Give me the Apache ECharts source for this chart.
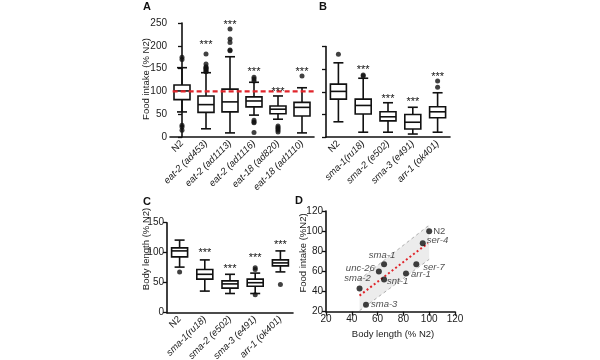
<!DOCTYPE html>
<html><head><meta charset="utf-8">
<script src="https://cdn.jsdelivr.net/npm/echarts@6/dist/echarts.min.js"></script>
<style>html,body{margin:0;padding:0;background:#fff}#c{width:600px;height:360px}</style>
</head><body><div id="c"></div>
<script>
const FONT = '"Liberation Sans", Arial, Helvetica, sans-serif';

// ---- Panel A: food intake, eat mutants ----
const aCategories = ['N2', 'eat-2 (ad453)', 'eat-2 (ad1113)', 'eat-2 (ad1116)', 'eat-18 (ad820)', 'eat-18 (ad1110)'];
const aLow    = [55, 18, 9, 48, 39, 9];
const aQ1     = [82, 54, 55, 66, 51, 46];
const aMedian = [101, 71, 77, 79, 61, 65];
const aQ3     = [114, 90, 105, 88, 68, 76];
const aHigh   = [152, 141, 176, 120, 90, 108];
const aOutliers = [[0,175],[0,170],[0,26],[0,22],[0,15],
  [1,182],[1,160],[1,154],[1,152],[1,150],[1,148],[1,145],[1,143],
  [2,237],[2,215],[2,207],[2,191],[2,189],
  [3,131],[3,127],[3,123],[3,37],[3,33],[3,31],[3,10],
  [4,24],[4,21],[4,18],[4,15],[4,11],
  [5,134]];
const aStars = [null, 206, 249, 147, 104, 147];
const aReference = 100;
const aReferenceSpan = [-0.39, 5.75];

// ---- Panel B: food intake, TGF-beta mutants ----
const bCategories = ['N2', 'sma-1(ru18)', 'sma-2 (e502)', 'sma-3 (e491)', 'arr-1 (ok401)'];
const bLow    = [34, 11, 11, 7, 11];
const bQ1     = [84, 51, 36, 18, 43];
const bMedian = [101, 70, 45, 33, 56];
const bQ3     = [117, 84, 56, 50, 67];
const bHigh   = [164, 130, 76, 66, 98];
const bOutliers = [[0,183],[1,137],[1,135],[4,124],[4,110]];
const bStars = [null, 153, 89, 82, 137];

// ---- Panel C: body length ----
const cCategories = ['N2', 'sma-1(ru18)', 'sma-2 (e502)', 'sma-3 (e491)', 'arr-1 (ok401)'];
const cLow    = [76, 36, 32, 32, 68];
const cQ1     = [93, 56, 41, 44, 78];
const cMedian = [103, 64, 48, 50, 83];
const cQ3     = [108, 72, 53, 56, 88];
const cHigh   = [121, 88, 64, 66, 103];
const cOutliers = [[0,68],[3,75],[3,72],[3,30],[4,47]];
const cStars = [null, 103, 76, 94, 117];

// ---- Panel D: correlation ----
const dGenes      = ['N2', 'ser-4', 'sma-1', 'unc-26', 'ser-7', 'arr-1', 'snt-1', 'sma-2', 'sma-3'];
const dBodyLength = [100, 95, 65, 61, 90, 82, 65, 46, 51];
const dFoodIntake = [100, 88, 67, 60, 67, 58, 52, 43, 27];
const dFitLine    = [[46, 36], [99, 88]];
const dBandUpper  = [[46, 52], [100, 106]];
const dBandLower  = [[46, 21], [100, 72]];
const dTicks = [20, 120, 20];

// ---- styles (not data) ----
const labelPlacement = {
  'N2': {position: 'right', offset: [-1, 0]},
  'ser-4': {position: 'right', offset: [-1, -3]},
  'sma-1': {position: 'top', offset: [-2, 1]},
  'unc-26': {position: 'left', offset: [1, -3]},
  'ser-7': {position: 'right', offset: [2, 3]},
  'arr-1': {position: 'right', offset: [0, 1]},
  'snt-1': {position: 'right', offset: [-2, 2]},
  'sma-2': {position: 'top', offset: [-2, 0]},
  'sma-3': {position: 'right', offset: [0, 0]}
};

const INK = '#111';
function boxData(lo, q1, md, q3, hi) {
  return lo.map((v, i) => [i, lo[i], q1[i], md[i], q3[i], hi[i]]);
}
function starData(arr) {
  const out = [];
  arr.forEach((v, i) => { if (v !== null) out.push([i, v]); });
  return out;
}
function boxItem(params, api) {
  const i = api.value(0);
  const p = [1, 2, 3, 4, 5].map(k => api.coord([i, api.value(k)]));
  const cx = p[0][0];
  const bw = 16, cw = 10;
  const st = {stroke: INK, lineWidth: 1.6, fill: null};
  return {type: 'group', children: [
    {type: 'line', shape: {x1: cx, y1: p[4][1], x2: cx, y2: p[3][1]}, style: st},
    {type: 'line', shape: {x1: cx, y1: p[0][1], x2: cx, y2: p[1][1]}, style: st},
    {type: 'line', shape: {x1: cx - cw / 2, y1: p[4][1], x2: cx + cw / 2, y2: p[4][1]}, style: st},
    {type: 'line', shape: {x1: cx - cw / 2, y1: p[0][1], x2: cx + cw / 2, y2: p[0][1]}, style: st},
    {type: 'rect', shape: {x: cx - bw / 2, y: p[3][1], width: bw, height: p[1][1] - p[3][1]},
      style: {stroke: INK, lineWidth: 1.6, fill: '#fff'}},
    {type: 'line', shape: {x1: cx - bw / 2, y1: p[2][1], x2: cx + bw / 2, y2: p[2][1]}, style: st}
  ]};
}
function starItem(params, api) {
  const c = api.coord([api.value(0), api.value(1)]);
  return {type: 'text', x: c[0], y: c[1] + 2,
    style: {text: '***', font: '11px ' + FONT, fill: INK, align: 'center', verticalAlign: 'middle'}};
}
function catAxis(grid, cats) {
  return {
    type: 'category', gridIndex: grid, data: cats,
    axisLine: {lineStyle: {color: INK, width: 1.6}},
    axisTick: {alignWithLabel: true, length: 4, lineStyle: {color: INK, width: 1.3}},
    axisLabel: {rotate: 45, margin: 5, color: '#1a1a1a', fontSize: 9.5, fontFamily: FONT, interval: 0,
      formatter: v => v === 'N2' ? v : '{i|' + v + '}',
      rich: {i: {fontStyle: 'italic', fontSize: 9.5, fontFamily: FONT, color: '#1a1a1a'}}},
    splitLine: {show: false}
  };
}
function valAxis(grid, min, max, interval, showLabels) {
  return {
    type: 'value', gridIndex: grid, min: min, max: max, interval: interval,
    axisLine: {show: true, lineStyle: {color: INK, width: 1.6}},
    axisTick: {show: true, length: 4, lineStyle: {color: INK, width: 1.3}},
    axisLabel: {show: showLabels, color: '#1a1a1a', fontSize: 10, fontFamily: FONT, margin: 3},
    splitLine: {show: false}
  };
}

const dPoints = dGenes.map((g, i) => ({
  name: g, value: [dBodyLength[i], dFoodIntake[i]],
  label: Object.assign({show: true, formatter: g, fontStyle: g === 'N2' ? 'normal' : 'italic',
    fontSize: 9.5, fontFamily: FONT, color: '#1a1a1a', distance: 2}, labelPlacement[g])
}));

const chart = echarts.init(document.getElementById('c'), null, {renderer: 'canvas'});
const option = {
  animation: false,
  backgroundColor: '#fff',
  grid: [
    {left: 170, top: 23, width: 144, height: 114, outerBoundsMode: 'none'},
    {left: 326, top: 46.5, width: 124, height: 90.7, outerBoundsMode: 'none'},
    {left: 167, top: 222.7, width: 126, height: 90, outerBoundsMode: 'none'},
    {left: 326, top: 211, width: 129, height: 100.7, outerBoundsMode: 'none'}
  ],
  xAxis: [
    catAxis(0, aCategories),
    catAxis(1, bCategories),
    catAxis(2, cCategories),
    valAxis(3, dTicks[0], dTicks[1], dTicks[2], true),
    {type: 'value', gridIndex: 0, min: -0.5, max: aCategories.length - 0.5, show: false}
  ],
  yAxis: [
    valAxis(0, 0, 250, 50, true),
    valAxis(1, 0, 200, 50, false),
    valAxis(2, 0, 150, 50, true),
    valAxis(3, dTicks[0], dTicks[1], dTicks[2], true)
  ],
  graphic: [
    {type: 'text', x: 143, y: 1, style: {text: 'A', font: 'bold 11px ' + FONT, fill: INK}},
    {type: 'text', x: 319, y: 1, style: {text: 'B', font: 'bold 11px ' + FONT, fill: INK}},
    {type: 'text', x: 143, y: 196, style: {text: 'C', font: 'bold 11px ' + FONT, fill: INK}},
    {type: 'text', x: 295, y: 195, style: {text: 'D', font: 'bold 11px ' + FONT, fill: INK}},
    {type: 'text', x: 146, y: 79, rotation: Math.PI / 2,
      style: {text: 'Food intake (% N2)', font: '9.5px ' + FONT, fill: '#1a1a1a', align: 'center', verticalAlign: 'middle'}},
    {type: 'text', x: 146, y: 249, rotation: Math.PI / 2,
      style: {text: 'Body length (% N2)', font: '9.5px ' + FONT, fill: '#1a1a1a', align: 'center', verticalAlign: 'middle'}},
    {type: 'text', x: 303, y: 253, rotation: Math.PI / 2,
      style: {text: 'Food intake (%N2)', font: '9.5px ' + FONT, fill: '#1a1a1a', align: 'center', verticalAlign: 'middle'}},
    {type: 'text', x: 393, y: 334,
      style: {text: 'Body length (% N2)', font: '9.5px ' + FONT, fill: '#1a1a1a', align: 'center', verticalAlign: 'middle'}}
  ],
  series: [
    // A
    {type: 'line', xAxisIndex: 4, yAxisIndex: 0, clip: false, symbol: 'none', z: 5,
      data: [[aReferenceSpan[0], aReference], [aReferenceSpan[1], aReference]],
      lineStyle: {color: '#e0252b', width: 2.2, type: [5, 3]}},
    {type: 'custom', xAxisIndex: 0, yAxisIndex: 0, renderItem: boxItem, z: 3,
      encode: {x: 0, y: [1, 2, 3, 4, 5]}, data: boxData(aLow, aQ1, aMedian, aQ3, aHigh)},
    {type: 'scatter', xAxisIndex: 0, yAxisIndex: 0, symbolSize: 5, itemStyle: {color: INK}, z: 4, data: aOutliers},
    {type: 'custom', xAxisIndex: 0, yAxisIndex: 0, renderItem: starItem, z: 6, data: starData(aStars)},
    // B
    {type: 'custom', xAxisIndex: 1, yAxisIndex: 1, renderItem: boxItem, z: 3,
      encode: {x: 0, y: [1, 2, 3, 4, 5]}, data: boxData(bLow, bQ1, bMedian, bQ3, bHigh)},
    {type: 'scatter', xAxisIndex: 1, yAxisIndex: 1, symbolSize: 5, itemStyle: {color: INK}, z: 4, data: bOutliers},
    {type: 'custom', xAxisIndex: 1, yAxisIndex: 1, renderItem: starItem, z: 6, data: starData(bStars)},
    // C
    {type: 'custom', xAxisIndex: 2, yAxisIndex: 2, renderItem: boxItem, z: 3,
      encode: {x: 0, y: [1, 2, 3, 4, 5]}, data: boxData(cLow, cQ1, cMedian, cQ3, cHigh)},
    {type: 'scatter', xAxisIndex: 2, yAxisIndex: 2, symbolSize: 5, itemStyle: {color: INK}, z: 4, data: cOutliers},
    {type: 'custom', xAxisIndex: 2, yAxisIndex: 2, renderItem: starItem, z: 6, data: starData(cStars)},
    // D
    {type: 'custom', xAxisIndex: 3, yAxisIndex: 3, z: 1, data: [dBandUpper[0]],
      renderItem: function (params, api) {
        const pts = dBandUpper.map(p => api.coord(p)).concat(dBandLower.slice().reverse().map(p => api.coord(p)));
        return {type: 'polygon', shape: {points: pts}, style: {fill: '#ececec', stroke: null}};
      }},
    {type: 'line', xAxisIndex: 3, yAxisIndex: 3, symbol: 'none', z: 2, data: dBandUpper,
      lineStyle: {color: '#9a9a9a', width: 0.8, type: [3, 3]}},
    {type: 'line', xAxisIndex: 3, yAxisIndex: 3, symbol: 'none', z: 2, data: dBandLower,
      lineStyle: {color: '#9a9a9a', width: 0.8, type: [3, 3]}},
    {type: 'line', xAxisIndex: 3, yAxisIndex: 3, symbol: 'none', z: 3, data: dFitLine,
      lineStyle: {color: '#e0252b', width: 2, type: [2, 2.5]}},
    {type: 'scatter', xAxisIndex: 3, yAxisIndex: 3, symbolSize: 6, itemStyle: {color: INK}, z: 5, data: dPoints}
  ]
};
chart.setOption(option);
</script>
</body></html>
